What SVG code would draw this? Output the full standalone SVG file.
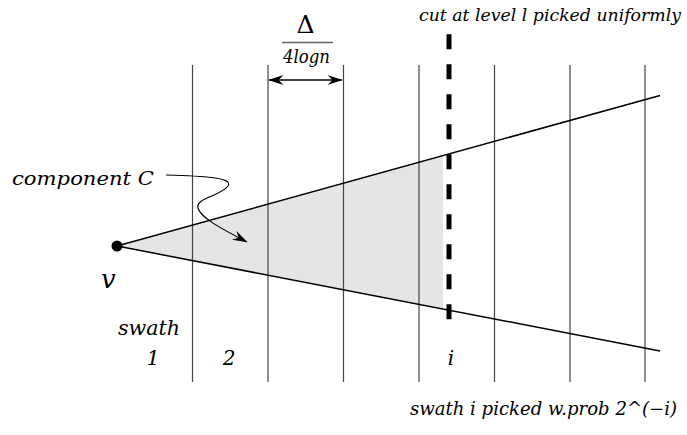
<svg xmlns="http://www.w3.org/2000/svg" width="687" height="435" viewBox="0 0 687 435">
<style>
text{font-family:"DejaVu Serif","Liberation Serif",serif;fill:#000}
.t{font-style:italic}
.grid{stroke:#444;stroke-width:1.2}
.ray{stroke:#000;stroke-width:1.5;fill:none}
</style>
<defs>
<marker id="ah" viewBox="0 0 15 10" refX="14.5" refY="5" markerWidth="15" markerHeight="10" markerUnits="userSpaceOnUse" orient="auto-start-reverse">
<path d="M0,0 L15,5 L0,10 L5,5 Z" fill="#000"/>
</marker>
</defs>
<rect width="687" height="435" fill="#fff"/>
<g id="component">
<polygon points="117,246 443,155.1 443,309.1" fill="#e5e5e5"/>
</g>
<g id="swaths">
<line class="grid" x1="192.5" y1="65" x2="192.5" y2="382"/>
<line class="grid" x1="268" y1="65" x2="268" y2="382"/>
<line class="grid" x1="343.5" y1="65" x2="343.5" y2="382"/>
<line class="grid" x1="419" y1="65" x2="419" y2="382"/>
<line class="grid" x1="494.5" y1="65" x2="494.5" y2="382"/>
<line class="grid" x1="570" y1="65" x2="570" y2="382"/>
<line class="grid" x1="645" y1="65" x2="645" y2="382"/>
</g>
<g id="connectors">
<line class="ray" x1="117" y1="246" x2="660" y2="95.5"/>
<line class="ray" x1="117" y1="246" x2="660" y2="351"/>
<line x1="449" y1="34.3" x2="449" y2="319.3" stroke="#000" stroke-width="5" stroke-dasharray="15 15"/>
<line x1="269" y1="80" x2="342" y2="80" stroke="#000" stroke-width="1.3" marker-start="url(#ah)" marker-end="url(#ah)"/>
<path d="M166,175 C200,176 234,177 228,186 C221,196 195,198 198,208 C200,216 214,225 247,242" stroke="#000" stroke-width="1.2" fill="none" marker-end="url(#ah)"/>
</g>
<g id="v">
<circle cx="117" cy="246" r="5.5" fill="#000"/>
<text class="t" x="101" y="288" font-size="26">v</text>
</g>
<g id="width-label">
<text x="305.5" y="33" font-size="25" text-anchor="middle">Δ</text>
<line x1="282" y1="42.5" x2="333" y2="42.5" stroke="#666" stroke-width="1.5"/>
<text class="t" x="283" y="63" font-size="18" textLength="47" lengthAdjust="spacingAndGlyphs">4logn</text>
</g>
<g id="cut-label">
<text class="t" x="419" y="21" font-size="17" textLength="262" lengthAdjust="spacingAndGlyphs">cut at level l picked uniformly</text>
</g>
<g id="component-label">
<text class="t" x="12" y="185" font-size="19" textLength="142" lengthAdjust="spacingAndGlyphs">component C</text>
</g>
<g id="swath-labels">
<text class="t" x="118" y="335" font-size="20" textLength="62" lengthAdjust="spacingAndGlyphs">swath</text>
<text class="t" x="153" y="365" font-size="20" text-anchor="middle">1</text>
<text class="t" x="229" y="365" font-size="20" text-anchor="middle">2</text>
<text class="t" x="451" y="365" font-size="20" text-anchor="middle">i</text>
</g>
<g id="prob-label">
<text class="t" x="410" y="415" font-size="18" textLength="267" lengthAdjust="spacingAndGlyphs">swath i picked w.prob 2^(−i)</text>
</g>
</svg>
